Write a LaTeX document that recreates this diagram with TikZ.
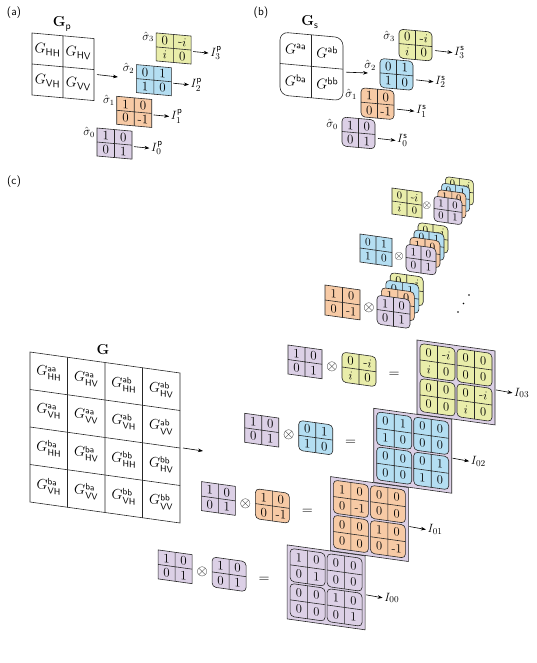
\documentclass[tikz,border=0pt]{standalone}
\usepackage{amsmath}
\usetikzlibrary{arrows.meta}
\definecolor{cpur}{RGB}{220,208,230}
\definecolor{corg}{RGB}{247,202,165}
\definecolor{cblu}{RGB}{180,222,242}
\definecolor{cyel}{RGB}{233,237,170}
\newcommand\numfont{\fontsize{13}{13}\selectfont}
\newcommand\gfont{\fontsize{14.5}{14.5}\selectfont}
\tikzset{
 mbox/.style={draw=black!85, line width=0.6pt},
 mline/.style={draw=black!85, line width=0.6pt},
 num/.style={transform shape, inner sep=0pt, font=\numfont},
 gtxt/.style={transform shape, inner sep=0pt, font=\gfont},
 ttl/.style={inner sep=0pt, font=\fontsize{14}{14}\selectfont},
 slbl/.style={inner sep=0pt, anchor=east, font=\fontsize{11.5}{11.5}\selectfont},
 ilbl/.style={inner sep=0pt, anchor=west, font=\fontsize{13}{13}\selectfont},
 plbl/.style={inner sep=0pt, font=\sffamily\fontsize{11.5}{11.5}\selectfont},
 op/.style={inner sep=0pt, font=\fontsize{14}{14}\selectfont},
 arr/.style={-{Stealth[length=5pt,width=3.6pt]}, line width=0.6pt},
}
\newcommand\setsize[2]{\def\MW{#1}\def\MH{#2}}
\newcommand\mtxl[9][]{%
 \begin{scope}[shift={({#3},{#4})}]
  \path[mbox,fill=#5,#1] (0,0) rectangle (\MW,\MH);
  \draw[mline] ({\MW/2},0) -- ({\MW/2},\MH) (0,{\MH/2}) -- (\MW,{\MH/2});
  \coordinate (#2-e) at (\MW,{\MH/2});
  \node[num] (#2-a) at ({\MW/4},{\MH/4}) {#6};
  \node[num] (#2-b) at ({3*\MW/4},{\MH/4}) {#7};
  \node[num] (#2-c) at ({\MW/4},{3*\MH/4}) {#8};
  \node[num] (#2-d) at ({3*\MW/4},{3*\MH/4}) {#9};
 \end{scope}}
\newcommand\mtx[9][]{\begin{scope}[shift={({#3},{#4})},yslant=-\SL]\mtxl[#1]{#2}{0}{0}{#5}{#6}{#7}{#8}{#9}\end{scope}}
\newcommand\panel[8]{%
 \begin{scope}[shift={({#2},{#3})},yslant=-\SL]
  \path[mbox,fill=cpur] (0,0) rectangle (78,74);
  \coordinate (#1-e) at (78,37);
  \setsize{35}{33}%
  \mtxl[rounded corners=4pt]{#1-A}{3}{3}{#4}{#5}{#6}{#7}{#8}
  \mtxl[rounded corners=4pt]{#1-B}{40}{3}{#4}{0}{0}{0}{0}
  \mtxl[rounded corners=4pt]{#1-C}{3}{38}{#4}{0}{0}{0}{0}
  \mtxl[rounded corners=4pt]{#1-D}{40}{38}{#4}{#5}{#6}{#7}{#8}
 \end{scope}}
\newcommand\gent[5]{\node[gtxt] (#1) at ({37.5*#2-18.75},{37.5*#3-18.75}) {$G^{\mathsf{#4}}_{\mathsf{#5}}$};}
\begin{document}
\begin{tikzpicture}[x=1pt,y=-1pt]
\useasboundingbox (0,0) rectangle (537,663);
\node[plbl] (la) at (14,13) {(a)};
\node[plbl] (lb) at (261,13) {(b)};
\node[plbl] (lc) at (14,182) {(c)};
% ---------------- (a)
\def\SL{0.09}
\begin{scope}[shift={(32,33)},yslant=-\SL]
 \draw[mbox] (0,0) rectangle (62,62) (31,0) -- (31,62) (0,31) -- (62,31);
 \coordinate (Gp-e) at (62,31);
 \node[gtxt] (Gp11) at (15.5,15.5) {$G_{\mathsf{HH}}$};
 \node[gtxt] (Gp12) at (46.5,15.5) {$G_{\mathsf{HV}}$};
 \node[gtxt] (Gp21) at (15.5,46.5) {$G_{\mathsf{VH}}$};
 \node[gtxt] (Gp22) at (46.5,46.5) {$G_{\mathsf{VV}}$};
\end{scope}
\node[ttl] (Gpt) at (62,24) {$\mathbf{G}_{\mathsf{p}}$};
\coordinate (Gpa) at (118,77);
\draw[arr] ([shift={(3,5)}]Gp-e) -- (Gpa);
\setsize{35}{28}
\mtx{ap3}{156.1}{32.9}{cyel}{0}{-$i$}{$i$}{0}
\mtx{ap2}{136.4}{64.6}{cblu}{0}{1}{1}{0}
\mtx{ap1}{116.7}{96.3}{corg}{1}{0}{0}{-1}
\mtx{ap0}{97}{128}{cpur}{1}{0}{0}{1}
\node[slbl] (sa3) at (154.1,36.9) {$\hat\sigma_3$};
\node[slbl] (sa2) at (134.4,68.6) {$\hat\sigma_2$};
\node[slbl] (sa1) at (114.7,100.3) {$\hat\sigma_1$};
\node[slbl] (sa0) at (95,132) {$\hat\sigma_0$};
\foreach \k in {0,1,2,3}{
 \node[ilbl] (Ip\k) at ([shift={(19,3)}]ap\k-e) {$I^{\mathsf{p}}_{\k}$};
 \draw[arr] ([shift={(2,1.5)}]ap\k-e) -- ([xshift=-1.5pt]Ip\k.west);
}
% ---------------- (b)
\begin{scope}[shift={(280,32)},yslant=-\SL]
 \draw[mbox,rounded corners=8pt] (0,0) rectangle (63,63);
 \draw[mline] (31.5,0) -- (31.5,63) (0,31.5) -- (63,31.5);
 \coordinate (Gs-e) at (63,31.5);
 \node[gtxt] (Gs11) at (15.75,15.75) {$G^{\mathsf{aa}}$};
 \node[gtxt] (Gs12) at (47.25,15.75) {$G^{\mathsf{ab}}$};
 \node[gtxt] (Gs21) at (15.75,47.25) {$G^{\mathsf{ba}}$};
 \node[gtxt] (Gs22) at (47.25,47.25) {$G^{\mathsf{bb}}$};
\end{scope}
\node[ttl] (Gst) at (310,22) {$\mathbf{G}_{\mathsf{s}}$};
\coordinate (Gsa) at (368,73);
\draw[arr] ([shift={(3,3)}]Gs-e) -- (Gsa);
\setsize{33}{29}
\mtx[rounded corners=4pt]{bs3}{399}{29.1}{cyel}{0}{-$i$}{$i$}{0}
\mtx[rounded corners=4pt]{bs2}{380}{58.4}{cblu}{0}{1}{1}{0}
\mtx[rounded corners=4pt]{bs1}{361}{87.7}{corg}{1}{0}{0}{-1}
\mtx[rounded corners=4pt]{bs0}{342}{117}{cpur}{1}{0}{0}{1}
\node[slbl] (sb3) at (395,36.1) {$\hat\sigma_3$};
\node[slbl] (sb2) at (376,65.4) {$\hat\sigma_2$};
\node[slbl] (sb1) at (357,94.7) {$\hat\sigma_1$};
\node[slbl] (sb0) at (338,124) {$\hat\sigma_0$};
\foreach \k in {0,1,2,3}{
 \node[ilbl] (Is\k) at ([shift={(22,6)}]bs\k-e) {$I^{\mathsf{s}}_{\k}$};
 \draw[arr] ([shift={(3,4)}]bs\k-e) -- ([xshift=-1.5pt]Is\k.west);
}
% ---------------- (c)
\def\SL{0.14}
\renewcommand\gfont{\fontsize{13.5}{13.5}\selectfont}
\begin{scope}[shift={(30,352)},yslant=-\SL]
 \draw[mbox] (0,0) rectangle (150,150);
 \foreach \i in {1,2,3}{\draw[mline] (37.5*\i,0) -- (37.5*\i,150) (0,37.5*\i) -- (150,37.5*\i);}
 \coordinate (G-e) at (150,75);
 \gent{G11}{1}{1}{aa}{HH}\gent{G12}{2}{1}{aa}{HV}\gent{G13}{3}{1}{ab}{HH}\gent{G14}{4}{1}{ab}{HV}
 \gent{G21}{1}{2}{aa}{VH}\gent{G22}{2}{2}{aa}{VV}\gent{G23}{3}{2}{ab}{VH}\gent{G24}{4}{2}{ab}{VV}
 \gent{G31}{1}{3}{ba}{HH}\gent{G32}{2}{3}{ba}{HV}\gent{G33}{3}{3}{bb}{HH}\gent{G34}{4}{3}{bb}{HV}
 \gent{G41}{1}{4}{ba}{VH}\gent{G42}{2}{4}{ba}{VV}\gent{G43}{3}{4}{bb}{VH}\gent{G44}{4}{4}{bb}{VV}
\end{scope}
\node[ttl] (Gt) at (103,350) {$\mathbf{G}$};
\coordinate (Ga) at (203,451);
\draw[arr] ([shift={(3,0)}]G-e) -- (Ga);
% stacks
\renewcommand\numfont{\fontsize{10.5}{10.5}\selectfont}
\setsize{30}{26}
\mtx{tA}{392}{188}{cyel}{0}{-$i$}{$i$}{0}
\node[op,font=\fontsize{11}{11}\selectfont] (oA) at (427,206) {$\otimes$};
\setsize{28}{25}
\mtx[rounded corners=3.5pt]{sA3}{445.4}{176.5}{cyel}{0}{-$i$}{}{}
\mtx[rounded corners=3.5pt]{sA2}{441.6}{183}{cblu}{0}{1}{}{}
\mtx[rounded corners=3.5pt]{sA1}{437.8}{189.5}{corg}{1}{0}{}{}
\mtx[rounded corners=3.5pt]{sA0}{434}{196}{cpur}{1}{0}{0}{1}
\renewcommand\numfont{\fontsize{11.5}{11.5}\selectfont}
\setsize{32}{28}
\mtx{tB}{360}{234}{cblu}{0}{1}{1}{0}
\node[op,font=\fontsize{12.5}{12.5}\selectfont] (oB) at (399,256) {$\otimes$};
\setsize{30}{27}
\mtx[rounded corners=4pt]{sB3}{418}{222.4}{cyel}{0}{-$i$}{}{}
\mtx[rounded corners=4pt]{sB2}{414}{229.6}{cblu}{0}{1}{}{}
\mtx[rounded corners=4pt]{sB1}{410}{236.8}{corg}{1}{0}{}{}
\mtx[rounded corners=4pt]{sB0}{406}{244}{cpur}{1}{0}{0}{1}
\renewcommand\numfont{\fontsize{12.5}{12.5}\selectfont}
\setsize{35}{30}
\mtx{tC}{325}{285}{corg}{1}{0}{0}{-1}
\node[op] (oC) at (369,308) {$\otimes$};
\setsize{33}{29}
\mtx[rounded corners=4pt]{sC3}{390.2}{272.5}{cyel}{0}{-$i$}{}{}
\mtx[rounded corners=4pt]{sC2}{385.8}{280}{cblu}{0}{1}{}{}
\mtx[rounded corners=4pt]{sC1}{381.4}{287.5}{corg}{1}{0}{}{}
\mtx[rounded corners=4pt]{sC0}{377}{295}{cpur}{1}{0}{0}{1}
\fill (458,312) circle[radius=0.9pt] (463.5,303.5) circle[radius=0.9pt] (469,295) circle[radius=0.9pt];
% main rows
\renewcommand\numfont{\fontsize{13}{13}\selectfont}
\newcommand\mainrow[8]{% #1 k, #2 x, #3 y, #4 color, #5-#8 entries
 \setsize{34}{29}%
 \mtx{p#1}{#2}{#3}{cpur}{1}{0}{0}{1}
 \node[op] (o#1) at ({#2+44},{#3+22}) {$\otimes$};
 \setsize{34}{30}%
 \mtx[rounded corners=4pt]{q#1}{#2+54}{#3+7}{#4}{#5}{#6}{#7}{#8}
 \node[op] (eq#1) at ({#2+106},{#3+30}) {$=$};
 \renewcommand\numfont{\fontsize{12.5}{12.5}\selectfont}%
 \panel{P#1}{#2+129}{#3-5}{#4}{#5}{#6}{#7}{#8}
 \renewcommand\numfont{\fontsize{13}{13}\selectfont}%
 \node[ilbl] (I#1) at ([shift={(19,5)}]P#1-e) {$I_{0#1}$};
 \draw[arr] ([shift={(1,2)}]P#1-e) -- ([xshift=-1.5pt]I#1.west);
}
\mainrow{3}{288}{345}{cyel}{0}{-$i$}{$i$}{0}
\mainrow{2}{244.7}{413.3}{cblu}{0}{1}{1}{0}
\mainrow{1}{201.4}{481.6}{corg}{1}{0}{0}{-1}
\mainrow{0}{158.1}{549.9}{cpur}{1}{0}{0}{1}
\end{tikzpicture}
\end{document}
